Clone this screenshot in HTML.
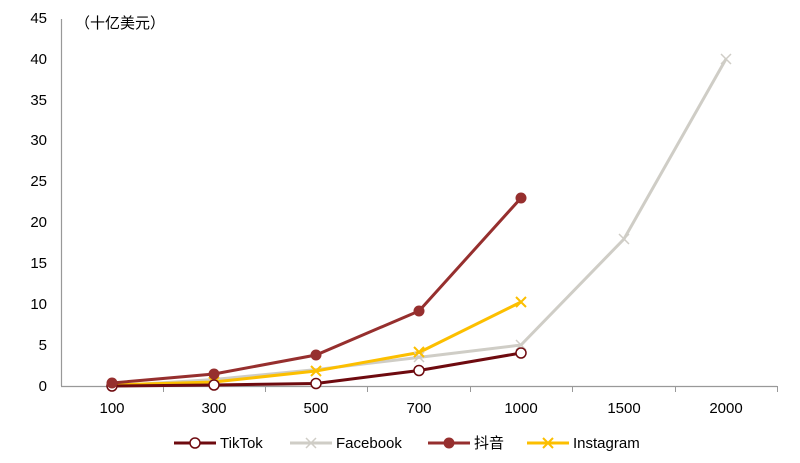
<!DOCTYPE html>
<html><head><meta charset="utf-8"><style>body{margin:0;background:#fff}</style></head><body>
<svg width="800" height="458" xmlns="http://www.w3.org/2000/svg" font-family="Liberation Sans, Noto Sans CJK SC, sans-serif" font-size="15" fill="#000">
<g text-anchor="end">
<text x="47" y="391">0</text><text x="47" y="350">5</text><text x="47" y="309">10</text><text x="47" y="268">15</text><text x="47" y="227">20</text><text x="47" y="186">25</text><text x="47" y="145">30</text><text x="47" y="105">35</text><text x="47" y="64">40</text><text x="47" y="23">45</text>
</g>
<text x="75" y="28" font-family="Noto Sans CJK SC, sans-serif" font-size="15">（十亿美元）</text>
<line x1="61.5" y1="19" x2="61.5" y2="386" stroke="#999" stroke-width="1.2"/>
<line x1="61" y1="386.5" x2="777" y2="386.5" stroke="#999" stroke-width="1.2"/>
<g stroke="#999"><line x1="163.5" y1="386" x2="163.5" y2="392"/><line x1="265.5" y1="386" x2="265.5" y2="392"/><line x1="367.5" y1="386" x2="367.5" y2="392"/><line x1="470.5" y1="386" x2="470.5" y2="392"/><line x1="572.5" y1="386" x2="572.5" y2="392"/><line x1="675.5" y1="386" x2="675.5" y2="392"/><line x1="777.5" y1="386" x2="777.5" y2="392"/></g>
<g text-anchor="middle"><text x="112" y="413">100</text><text x="214" y="413">300</text><text x="316" y="413">500</text><text x="419" y="413">700</text><text x="521" y="413">1000</text><text x="624" y="413">1500</text><text x="726" y="413">2000</text></g>
<g fill="none" stroke-width="3">
<polyline points="112,386 214,379.5 316,369.6 419,357.4 521,345 624,239 726,59" stroke="#cfcdc6"/>
<polyline points="112,385 214,382 316,371 419,352.5 521,302" stroke="#fcbf00"/>
<polyline points="112,386 214,385 316,383.5 419,370.5 521,353" stroke="#6e0a0f"/>
<polyline points="112,383 214,374 316,355 419,311 521,198" stroke="#962f2e"/>
</g>
<g stroke="#cfcdc6" stroke-width="1.5"><path d="M619,234l10,10m0-10l-10,10M721,54l10,10m0-10l-10,10M516,340l10,10m0-10l-10,10M414,352l10,10m0-10l-10,10"/></g>
<g stroke="#fcbf00" stroke-width="2"><path d="M209,377l10,10m0-10l-10,10M311,366l10,10m0-10l-10,10M414,347l10,10m0-10l-10,10M516,297l10,10m0-10l-10,10"/></g>
<g fill="#fff" stroke="#6e0a0f" stroke-width="1.5"><circle cx="112" cy="386" r="5"/><circle cx="214" cy="385" r="5"/><circle cx="316" cy="383.5" r="5"/><circle cx="419" cy="370.5" r="5"/><circle cx="521" cy="353" r="5"/></g>
<g fill="#962f2e"><circle cx="112" cy="383" r="5.5"/><circle cx="214" cy="374" r="5.5"/><circle cx="316" cy="355" r="5.5"/><circle cx="419" cy="311" r="5.5"/><circle cx="521" cy="198" r="5.5"/></g>
<line x1="174" y1="443" x2="216" y2="443" stroke="#6e0a0f" stroke-width="3"/><circle cx="195" cy="443" r="5" fill="#fff" stroke="#6e0a0f" stroke-width="1.5"/><text x="220" y="448">TikTok</text>
<line x1="290" y1="443" x2="332" y2="443" stroke="#cfcdc6" stroke-width="3"/><path d="M306,438l10,10m0-10l-10,10" stroke="#cfcdc6" stroke-width="1.5"/><text x="336" y="448">Facebook</text>
<line x1="428" y1="443" x2="470" y2="443" stroke="#962f2e" stroke-width="3"/><circle cx="449" cy="443" r="5.5" fill="#962f2e"/><text x="474" y="448" font-family="Noto Sans CJK SC, sans-serif">抖音</text>
<line x1="527" y1="443" x2="569" y2="443" stroke="#fcbf00" stroke-width="3"/><path d="M543,438l10,10m0-10l-10,10" stroke="#fcbf00" stroke-width="2"/><text x="573" y="448">Instagram</text>
</svg>
</body></html>
